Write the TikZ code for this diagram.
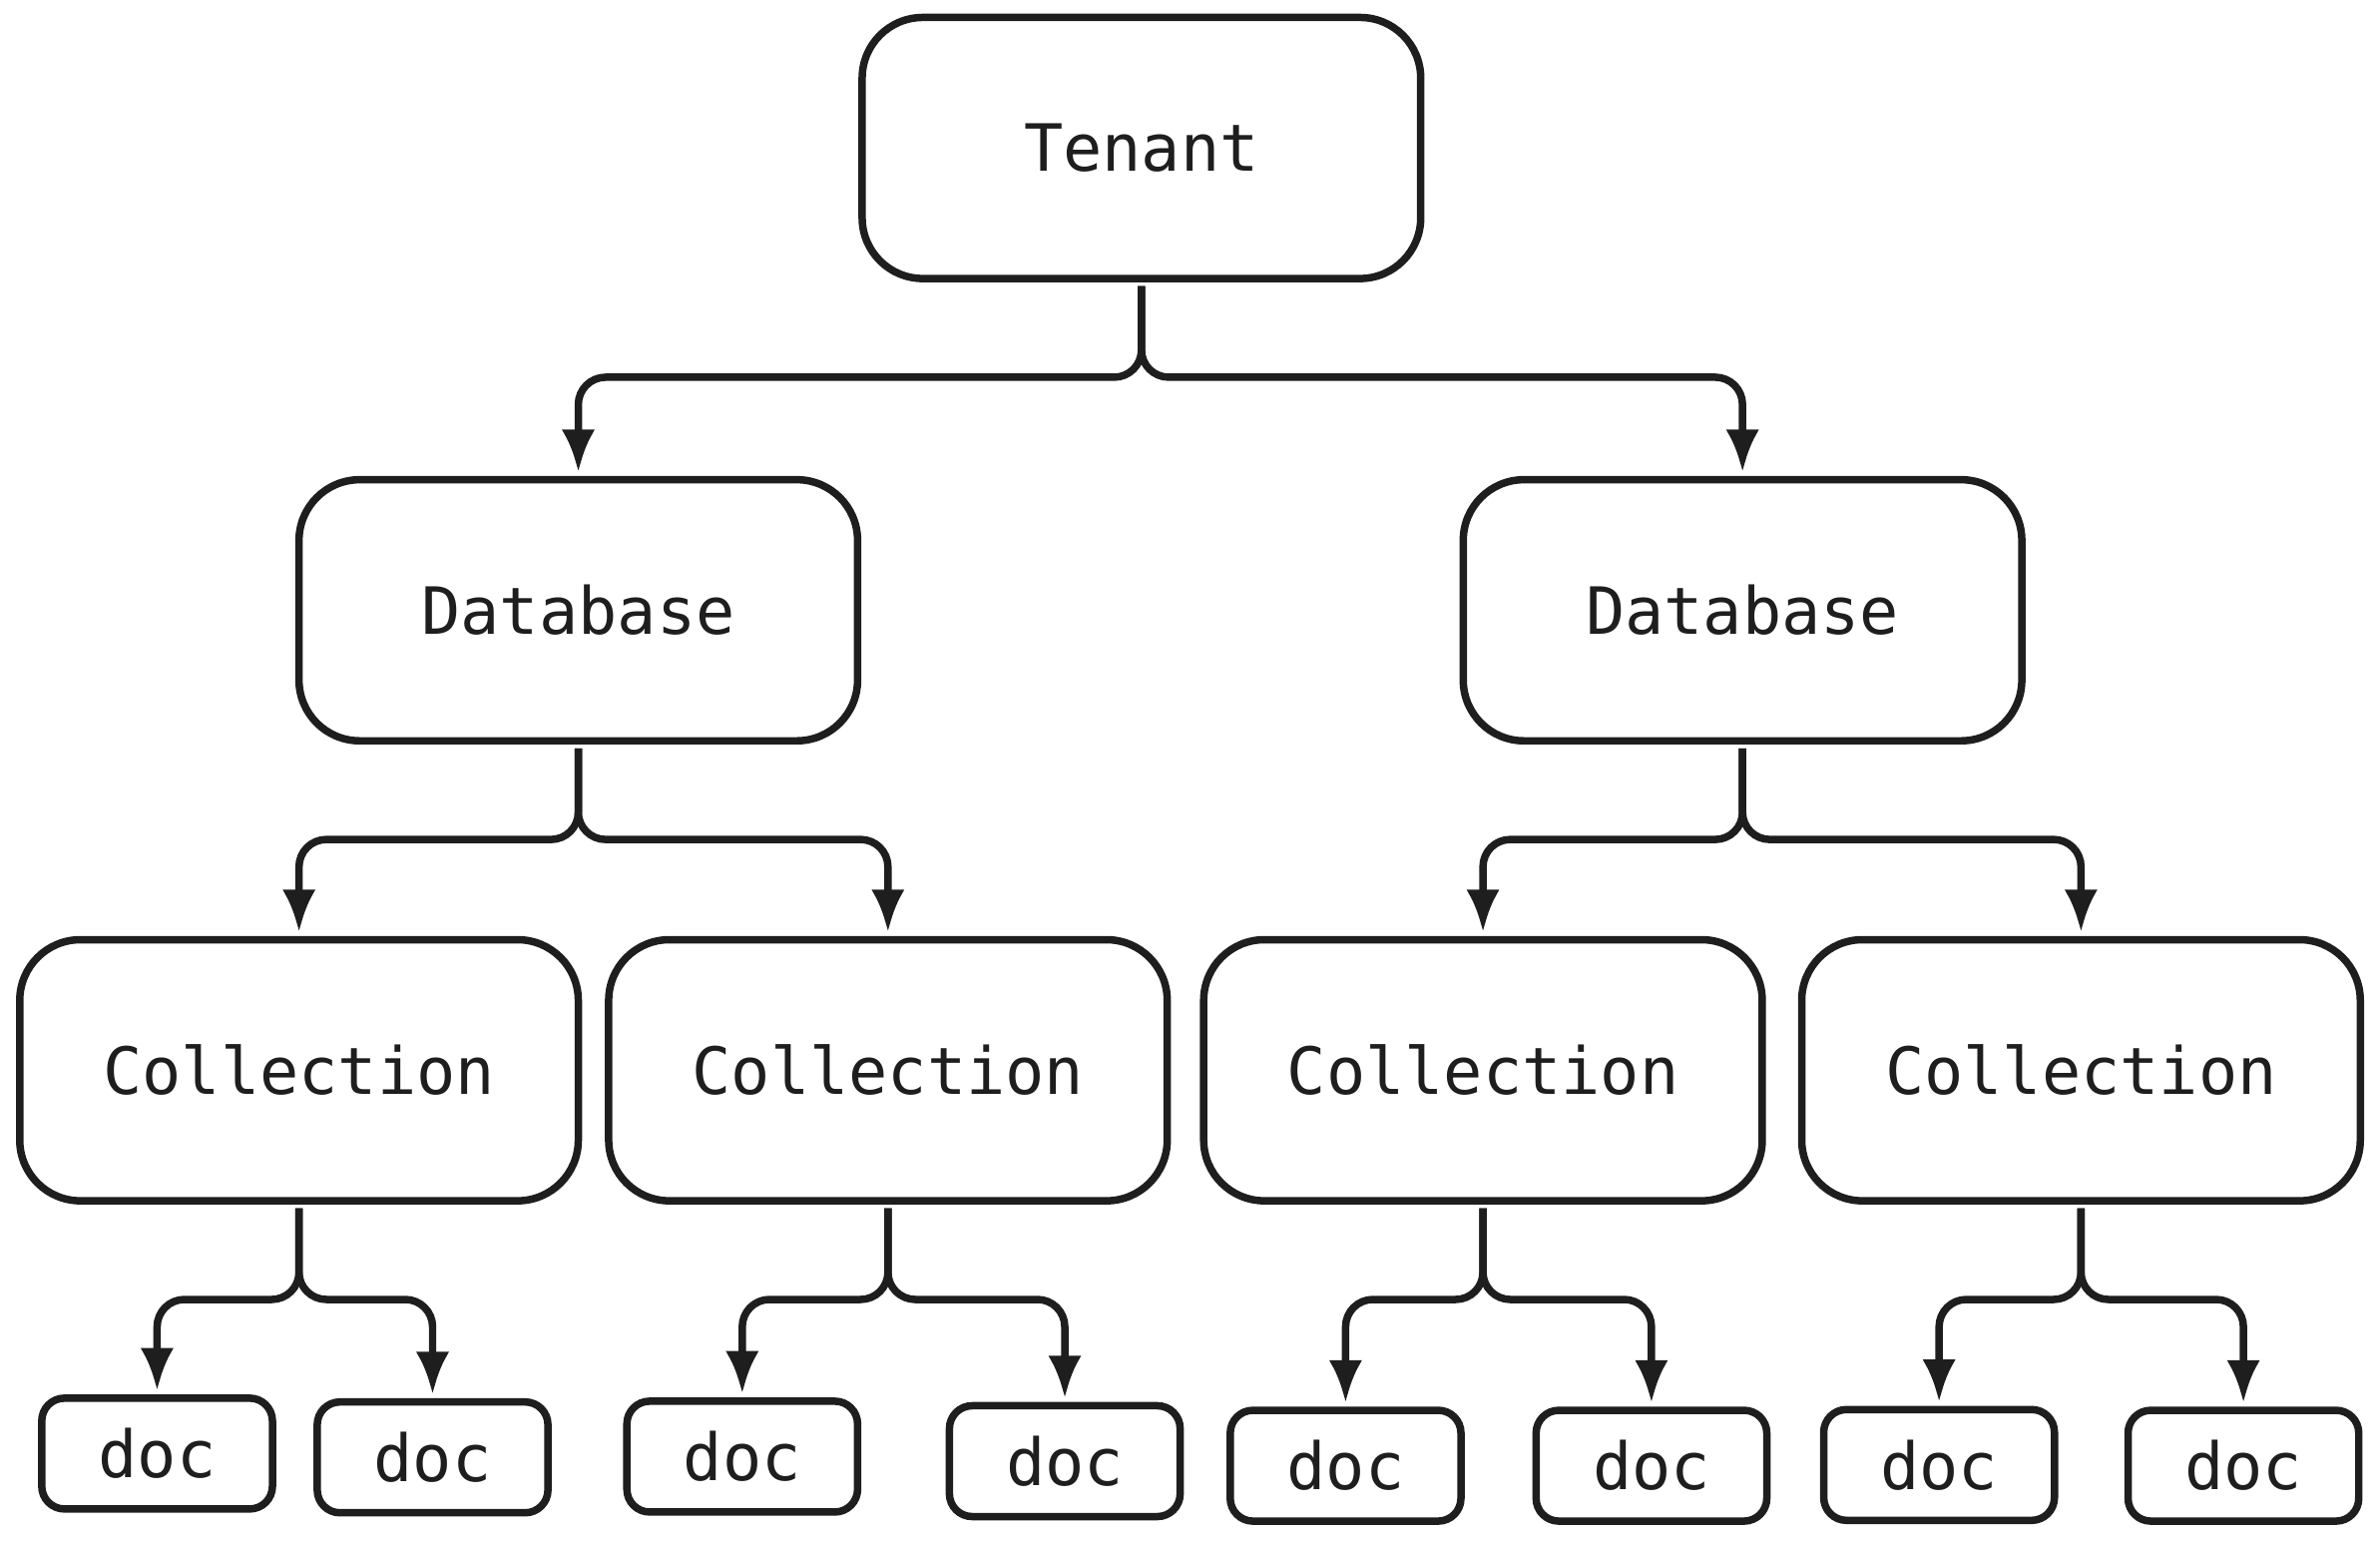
\documentclass[tikz,border=0pt]{standalone}
\usepackage{fontspec}
\setmainfont{DejaVu Sans Mono}
\usetikzlibrary{arrows.meta}
\definecolor{ink}{HTML}{1E1E1E}

\begin{document}
\begin{tikzpicture}[x=1cm,y=-1cm,
  box/.style={draw=ink,line width=1.4pt,rounded corners=0.4cm,minimum width=3.68cm,minimum height=1.72cm,inner sep=0pt,outer sep=0.05cm,text=ink,font=\fontsize{12.2}{14}\selectfont},
  docbox/.style={box,rounded corners=0.15cm,minimum width=1.52cm,minimum height=0.73cm},
  link/.style={draw=ink,line width=1.4pt,rounded corners=0.18cm,-{Latex[length=0.28cm,width=0.22cm]}}]
\useasboundingbox (0,0) rectangle (15.68,10.157);
% top levels
\node[box] (tenant) at (7.52,0.975) {Tenant};
\node[box] (dbL) at (3.81,4.02) {Database};
\node[box] (dbR) at (11.48,4.02) {Database};
\node[box] (colA) at (1.97,7.05) {Collection};
\node[box] (colB) at (5.85,7.05) {Collection};
\node[box] (colC) at (9.77,7.05) {Collection};
\node[box] (colD) at (13.71,7.05) {Collection};
% documents
\node[docbox] (docA1) at (1.035,9.575) {doc};
\node[docbox] (docA2) at (2.85,9.60) {doc};
\node[docbox] (docB1) at (4.89,9.595) {doc};
\node[docbox] (docB2) at (7.015,9.625) {doc};
\node[docbox] (docC1) at (8.865,9.655) {doc};
\node[docbox] (docC2) at (10.88,9.655) {doc};
\node[docbox] (docD1) at (12.775,9.65) {doc};
\node[docbox] (docD2) at (14.78,9.655) {doc};
% links
\foreach \p/\c in {tenant/dbL,tenant/dbR,dbL/colA,dbL/colB,dbR/colC,dbR/colD,
  colA/docA1,colA/docA2,colB/docB1,colB/docB2,colC/docC1,colC/docC2,colD/docD1,colD/docD2}
  \draw[link] (\p.south) -- ++(0,0.6) -| (\c.north);
\end{tikzpicture}
\end{document}
